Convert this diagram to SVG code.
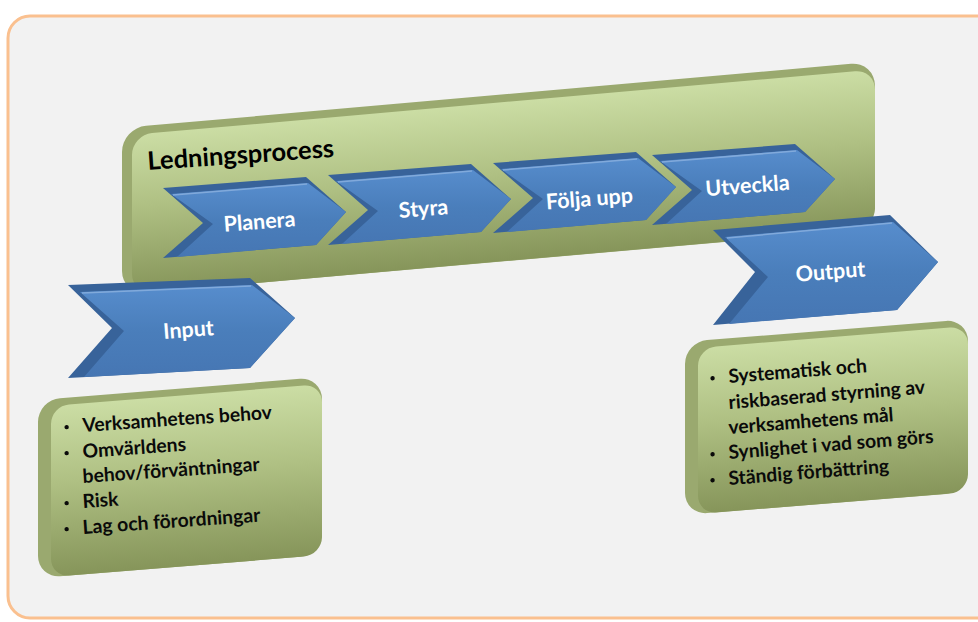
<svg xmlns="http://www.w3.org/2000/svg" xmlns:xlink="http://www.w3.org/1999/xlink" width="978" height="622" viewBox="0 0 978 622">
<defs>
<style>
.edge{fill:#9AA96F}
.face{fill:url(#gGreen)}
.bk{fill:#38639A}
.bf{fill:url(#gBlue)}
.hl{fill:none;stroke:#86ADDD;stroke-width:1.5;opacity:.9}
.ct{font-family:Lato,"Open Sans",sans-serif;font-weight:700;fill:#fff;font-size:21.5px;text-anchor:middle}
.tt{font-family:Lato,"Open Sans",sans-serif;font-weight:700;fill:#000;font-size:25.5px}
.bt{font-family:Lato,"Open Sans",sans-serif;font-weight:700;fill:#0a0a0a;font-size:19.3px}
.dot{fill:#0a0a0a}
</style>
<linearGradient id="gGreen" x1="0" y1="0" x2="0" y2="1">
<stop offset="0" stop-color="#CBDDA4"/>
<stop offset="0.45" stop-color="#AFC083"/>
<stop offset="1" stop-color="#86955A"/>
</linearGradient>
<linearGradient id="gBlue" x1="0" y1="0" x2="0" y2="1">
<stop offset="0" stop-color="#578DCD"/>
<stop offset="0.5" stop-color="#4A7EBB"/>
<stop offset="1" stop-color="#4676B3"/>
</linearGradient>
<g id="chev">
<polygon class="bk" points="0,0 143,-11 183,24 153,57 0,70 40,35"/>
<polygon class="bf" points="8,6 145,-5 183,24 153,57 14,69 50,36"/>
<polyline class="hl" points="10,7 144,-4"/>
</g>
</defs>
<rect x="0" y="0" width="978" height="622" fill="#fff"/>
<rect x="8" y="16" width="990" height="602" rx="22" fill="#F2F2F2" stroke="#FAC08F" stroke-width="3"/>

<g id="ledningsprocess">
<g transform="skewY(-5.03)">
<rect class="edge" x="122" y="138.7" width="753" height="167" rx="24"/>
<rect class="face" x="132" y="146.5" width="743" height="159" rx="20"/>
</g>
<text class="tt" x="148" y="170" transform="rotate(-4 148 170)">Ledningsprocess</text>
</g>

<g id="planera">
<use xlink:href="#chev" transform="translate(163,188)"/>
<text class="ct" x="260" y="229" transform="rotate(-4.5 260 229)">Planera</text>
</g>
<g id="styra">
<use xlink:href="#chev" transform="translate(328,175)"/>
<text class="ct" x="424" y="216" transform="rotate(-4.5 424 216)">Styra</text>
</g>
<g id="folja-upp">
<use xlink:href="#chev" transform="translate(493,163)"/>
<text class="ct" x="590" y="206" transform="rotate(-4.5 590 206)">Följa upp</text>
</g>
<g id="utveckla">
<use xlink:href="#chev" transform="translate(652,155)"/>
<text class="ct" x="748" y="193" transform="rotate(-4.5 748 193)">Utveckla</text>
</g>

<g id="input">
<g transform="translate(68,285)">
<polygon class="bk" points="0,0 182,-7 227,33 182,83 0,93 44,43"/>
<polygon class="bf" points="12,7 184,0 227,33 182,83 16,92 56,46"/>
<polyline class="hl" points="14,8 183,1"/>
</g>
<text class="ct" x="189" y="337" transform="rotate(-4.5 189 337)">Input</text>
</g>

<g id="output">
<g transform="translate(713,230)">
<polygon class="bk" points="0,0 177,-15 225,32 184,80 0,95 42,42"/>
<polygon class="bf" points="12,7 180,-8 225,32 184,80 16,94 55,47"/>
<polyline class="hl" points="14,8 179,-7"/>
</g>
<text class="ct" x="831" y="279" transform="rotate(-4.5 831 279)">Output</text>
</g>

<g id="input-box">
<g transform="skewY(-4.6)">
<rect class="edge" x="38" y="403" width="284" height="178" rx="22"/>
<rect class="face" x="51" y="410" width="271" height="171" rx="18"/>
</g>
<g transform="rotate(-4 83 432)"><circle class="dot" cx="67" cy="426" r="2.2"/><text class="bt" x="83" y="432">Verksamhetens behov</text></g>
<g transform="rotate(-4 83 458)"><circle class="dot" cx="67" cy="452" r="2.2"/><text class="bt" x="83" y="458">Omvärldens</text></g>
<g transform="rotate(-4 83 483)"><text class="bt" x="83" y="483">behov/förväntningar</text></g>
<g transform="rotate(-4 83 508)"><circle class="dot" cx="67" cy="502" r="2.2"/><text class="bt" x="83" y="508">Risk</text></g>
<g transform="rotate(-4 83 534)"><circle class="dot" cx="67" cy="528" r="2.2"/><text class="bt" x="83" y="534">Lag och förordningar</text></g>
</g>

<g id="output-box">
<g transform="skewY(-4.6)">
<rect class="edge" x="685" y="397" width="283" height="173" rx="22"/>
<rect class="face" x="698" y="404" width="270" height="166" rx="18"/>
</g>
<g transform="rotate(-4.5 729 383)"><circle class="dot" cx="713" cy="377" r="2.2"/><text class="bt" x="729" y="383">Systematisk och</text></g>
<g transform="rotate(-4.5 729 409)"><text class="bt" x="729" y="409">riskbaserad styrning av</text></g>
<g transform="rotate(-4.5 729 434)"><text class="bt" x="729" y="434">verksamhetens mål</text></g>
<g transform="rotate(-4.5 729 459)"><circle class="dot" cx="713" cy="453" r="2.2"/><text class="bt" x="729" y="459">Synlighet i vad som görs</text></g>
<g transform="rotate(-4.5 729 485)"><circle class="dot" cx="713" cy="479" r="2.2"/><text class="bt" x="729" y="485">Ständig förbättring</text></g>
</g>

<g id="connectors"/>
</svg>
